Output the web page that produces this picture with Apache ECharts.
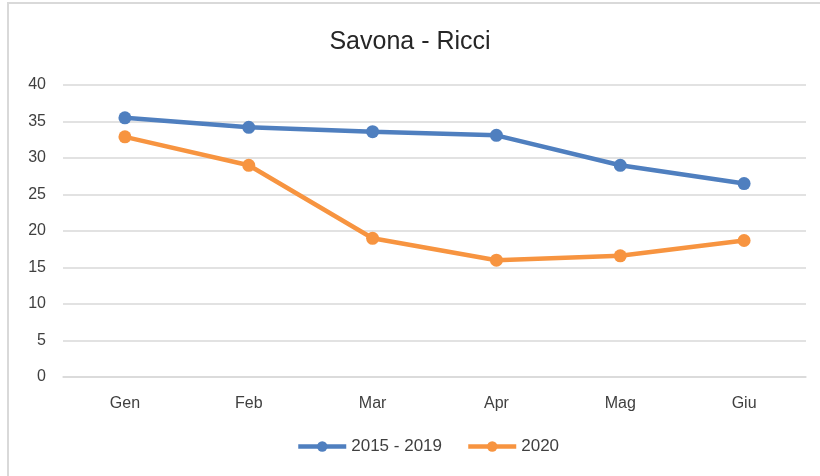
<!DOCTYPE html>
<html>
<head>
<meta charset="utf-8">
<script src="https://cdn.jsdelivr.net/npm/echarts@6/dist/echarts.min.js"></script>
<style>
  html, body { margin: 0; padding: 0; background: #fff; }
  #chart { width: 820px; height: 476px; }
</style>
</head>
<body>
<div id="chart"></div>
<script>
// dati
var mesi = ['Gen', 'Feb', 'Mar', 'Apr', 'Mag', 'Giu'];
var media2015_2019 = [35.5, 34.2, 33.6, 33.1, 29.0, 26.5];
var anno2020 = [32.9, 29.0, 19.0, 16.0, 16.6, 18.7];

var chart = echarts.init(document.getElementById('chart'));
var font = 'Liberation Sans';

var option = {
  animation: false,
  backgroundColor: '#fff',
  graphic: [{
    type: 'rect',
    shape: { x: 8, y: 3, width: 900, height: 600 },
    style: { fill: 'none', stroke: '#d9d9d9', lineWidth: 2 },
    silent: true
  }],
  title: {
    text: 'Savona - Ricci',
    left: 'center',
    top: 25,
    textStyle: { fontFamily: font, fontSize: 25, fontWeight: 'normal', color: '#262626' }
  },
  legend: {
    bottom: 16,
    left: 291,
    itemWidth: 48,
    itemHeight: 13,
    itemGap: 24,
    textStyle: { fontFamily: font, fontSize: 17, color: '#404040' },
    lineStyle: { width: 4.5 },
    data: ['2015 - 2019', '2020']
  },
  grid: { left: 63, right: 14, top: 85, bottom: 99, containLabel: false },
  xAxis: {
    type: 'category',
    data: mesi,
    boundaryGap: true,
    axisLine: { lineStyle: { color: '#d9d9d9', width: 1.5 } },
    axisTick: { show: false },
    axisLabel: { fontFamily: font, fontSize: 16, color: '#404040', margin: 19 }
  },
  yAxis: {
    type: 'value',
    min: 0,
    max: 40,
    interval: 5,
    axisLine: { show: false },
    axisTick: { show: false },
    axisLabel: { fontFamily: font, fontSize: 16, color: '#404040', margin: 17 },
    splitLine: { lineStyle: { color: '#d9d9d9', width: 1.5 } }
  },
  series: [{
    name: '2015 - 2019',
    type: 'line',
    data: media2015_2019,
    symbol: 'circle',
    symbolSize: 13,
    color: '#4f7fbf',
    lineStyle: { width: 4.5 }
  }, {
    name: '2020',
    type: 'line',
    data: anno2020,
    symbol: 'circle',
    symbolSize: 13,
    color: '#f79440',
    lineStyle: { width: 4.5 }
  }]
};
chart.setOption(option);
</script>
</body>
</html>
